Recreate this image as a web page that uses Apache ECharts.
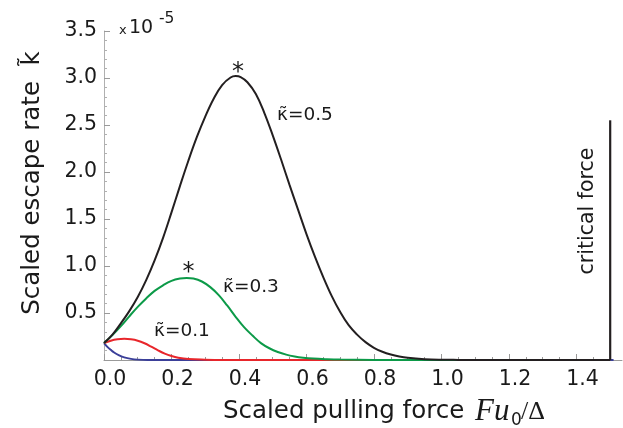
<!DOCTYPE html>
<html><head><meta charset="utf-8">
<script src="https://cdn.jsdelivr.net/npm/echarts@6/dist/echarts.min.js"></script>
<style>html,body{margin:0;padding:0;background:#fff}#c{width:623px;height:428px}</style>
</head><body><div id="c"></div>
<script>
// kappa = 0.5 (black)
const blackX = [0, 0.025, 0.05, 0.075, 0.10, 0.125, 0.15, 0.175, 0.20, 0.225, 0.25, 0.275, 0.30, 0.325, 0.35, 0.375, 0.39, 0.405, 0.425, 0.45, 0.475, 0.50, 0.525, 0.55, 0.575, 0.60, 0.625, 0.65, 0.675, 0.70, 0.725, 0.75, 0.775, 0.80, 0.825, 0.85, 0.875, 0.90, 0.95, 1.0, 1.05, 1.1, 1.5];
const blackY = [0.18, 0.27, 0.39, 0.52, 0.67, 0.85, 1.06, 1.30, 1.57, 1.85, 2.12, 2.37, 2.59, 2.78, 2.925, 3.005, 3.02, 3.01, 2.955, 2.83, 2.63, 2.39, 2.13, 1.86, 1.60, 1.34, 1.10, 0.88, 0.68, 0.51, 0.37, 0.27, 0.19, 0.13, 0.088, 0.058, 0.037, 0.023, 0.009, 0.003, 0.001, 0, 0];
// kappa = 0.3 (green)
const greenX = [0, 0.025, 0.05, 0.075, 0.10, 0.125, 0.15, 0.175, 0.20, 0.225, 0.245, 0.265, 0.29, 0.315, 0.34, 0.365, 0.39, 0.415, 0.44, 0.465, 0.49, 0.515, 0.54, 0.565, 0.59, 0.62, 0.66, 0.70, 0.80, 0.90, 1.5];
const greenY = [0.18, 0.265, 0.36, 0.465, 0.565, 0.655, 0.735, 0.795, 0.842, 0.866, 0.872, 0.866, 0.835, 0.775, 0.69, 0.58, 0.46, 0.35, 0.26, 0.18, 0.125, 0.085, 0.057, 0.038, 0.025, 0.015, 0.008, 0.004, 0.001, 0, 0];
// kappa = 0.1 (red)
const redX = [0, 0.02, 0.04, 0.06, 0.08, 0.10, 0.12, 0.14, 0.16, 0.18, 0.20, 0.22, 0.25, 0.30, 0.35, 1.5];
const redY = [0.18, 0.205, 0.22, 0.225, 0.22, 0.205, 0.178, 0.142, 0.103, 0.068, 0.042, 0.024, 0.01, 0.003, 0, 0];
// lowest kappa (blue)
const blueX = [0, 0.01, 0.02, 0.03, 0.045, 0.06, 0.08, 0.10, 0.13, 1.51];
const blueY = [0.18, 0.14, 0.108, 0.08, 0.05, 0.028, 0.012, 0.004, 0, 0];

const criticalForce = 1.5;
const criticalTop = 2.55;

const xTickValues = [0, 0.2, 0.4, 0.6, 0.8, 1.0, 1.2, 1.4];
const xMinorTickValues = [0, 0.05, 0.1, 0.15, 0.2, 0.25, 0.3, 0.35, 0.4, 0.45, 0.5, 0.55, 0.6, 0.65, 0.7, 0.75, 0.8, 0.85, 0.9, 0.95, 1.0, 1.05, 1.1, 1.15, 1.2, 1.25, 1.3, 1.35, 1.4, 1.45, 1.5];
const yMin = 0, yMax = 3.5, yInterval = 0.5;
const xMin = 0, xMax = 1.535;

const FONT = '"DejaVu Sans", sans-serif';
const zip = (xs, ys) => xs.map((x, i) => [x, ys[i]]);

const chart = echarts.init(document.getElementById('c'), null, {renderer: 'canvas'});

function line(name, xs, ys, color, z) {
  return {
    name, type: 'line', xAxisIndex: 0, yAxisIndex: 0, data: zip(xs, ys),
    showSymbol: false, smooth: 0.4, z: z, clip: true,
    lineStyle: {color, width: 2}, itemStyle: {color}
  };
}

const option = {
  animation: false,
  backgroundColor: '#fff',
  grid: {left: 104, right: 1, top: 31, bottom: 68, containLabel: false},
  xAxis: [{
    type: 'value', min: xMin, max: xMax, position: 'bottom',
    axisLine: {show: true, onZero: false, lineStyle: {color: '#9a9a9a', width: 1}},
    axisTick: {show: true, inside: true, length: 3, customValues: xMinorTickValues, lineStyle: {color: '#9a9a9a'}},
    axisLabel: {show: false},
    splitLine: {show: false}
  }, {
    type: 'value', min: xMin, max: xMax, position: 'bottom', offset: 0,
    axisLine: {show: false},
    axisTick: {show: true, inside: true, length: 6, customValues: xTickValues, lineStyle: {color: '#9a9a9a'}},
    axisLabel: {show: true, customValues: xTickValues, formatter: v => Number(v).toFixed(1),
      fontSize: 20.5, fontFamily: FONT, color: '#1a1a1a', margin: 9, padding: [0, 0, 0, 12]},
    splitLine: {show: false}
  }],
  yAxis: {
    type: 'value', min: yMin, max: yMax, interval: yInterval,
    axisLine: {show: true, lineStyle: {color: '#b0b0b0', width: 1}},
    axisTick: {show: true, inside: true, length: 6, lineStyle: {color: '#9a9a9a'}},
    minorTick: {show: true, splitNumber: 5, length: 3, lineStyle: {color: '#b0b0b0'}},
    axisLabel: {formatter: v => v === 0 ? '' : Number(v).toFixed(1), fontSize: 20.5, fontFamily: FONT, color: '#1a1a1a', margin: 7},
    splitLine: {show: false}, minorSplitLine: {show: false}
  },
  series: [
    line('blue', blueX, blueY, '#3b3f99', 2),
    line('κ=0.1', redX, redY, '#e8262b', 3),
    line('κ=0.3', greenX, greenY, '#0c9a48', 4),
    line('κ=0.5', blackX, blackY, '#231f20', 5),
    {type: 'line', name: 'critical', data: [[criticalForce, 0], [criticalForce, criticalTop]],
     showSymbol: false, z: 6, lineStyle: {color: '#231f20', width: 2.2}}
  ]
};
chart.setOption(option);

function txt(x, y, text, size, extra) {
  return Object.assign({type: 'text', x, y, z: 100, style: Object.assign({
    text, fontSize: size, fontFamily: FONT, fill: '#1a1a1a', align: 'left', verticalAlign: 'middle'}, (extra && extra.style) || {})},
    extra && extra.el || {});
}

chart.setOption({graphic: [
  // y axis title
  txt(33, 183, 'Scaled escape rate  k\u0303', 24.5, {style: {align: 'center'}, el: {rotation: Math.PI / 2}}),
  // exponent
  txt(119, 31, 'x', 13),
  txt(129, 28, '10', 19),
  txt(159, 19, '-5', 15.5),
  // x axis title
  txt(223, 412, 'Scaled pulling force', 24.5),
  txt(475, 412, 'Fu', 31, {style: {fontFamily: '"Liberation Serif", serif', fontStyle: 'italic'}}),
  txt(511, 421, '0', 17),
  txt(521, 412, '/\u0394', 26, {style: {fontFamily: '"Liberation Serif", serif'}}),
  // annotations
  txt(238, 73, '*', 24, {style: {align: 'center'}}),
  txt(188.5, 273, '*', 24, {style: {align: 'center'}}),
  txt(277, 115, '\u03BA\u0303=0.5', 18.5),
  txt(223, 287, '\u03BA\u0303=0.3', 18.5),
  txt(154, 331, '\u03BA\u0303=0.1', 18.5),
  // critical force
  txt(588, 211, 'critical force', 20.5, {style: {align: 'center'}, el: {rotation: Math.PI / 2}})
]});
</script>
</body></html>
